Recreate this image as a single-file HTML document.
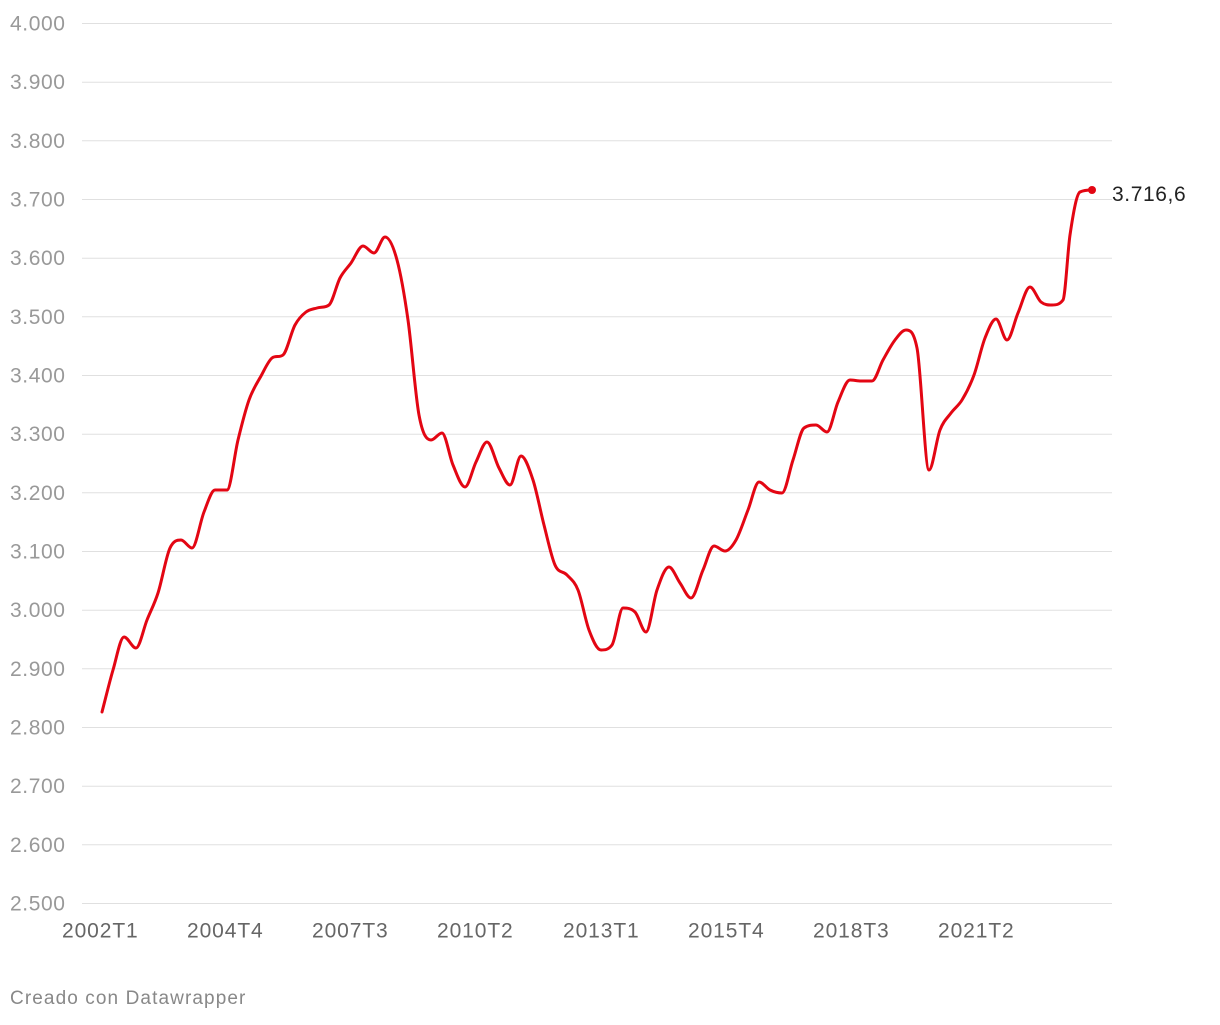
<!DOCTYPE html>
<html><head><meta charset="utf-8"><style>
body{margin:0;background:#fff;width:1220px;height:1020px;overflow:hidden;font-family:"Liberation Sans",Arial,sans-serif}
</style></head><body>
<svg width="1220" height="1020" xmlns="http://www.w3.org/2000/svg" font-family="Liberation Sans, Arial, sans-serif">
<g stroke="#e0e0e0" stroke-width="1">
<line x1="82" x2="1112" y1="23.5" y2="23.5"/><line x1="82" x2="1112" y1="82.2" y2="82.2"/>
<line x1="82" x2="1112" y1="140.8" y2="140.8"/><line x1="82" x2="1112" y1="199.5" y2="199.5"/>
<line x1="82" x2="1112" y1="258.2" y2="258.2"/><line x1="82" x2="1112" y1="316.8" y2="316.8"/>
<line x1="82" x2="1112" y1="375.5" y2="375.5"/><line x1="82" x2="1112" y1="434.2" y2="434.2"/>
<line x1="82" x2="1112" y1="492.8" y2="492.8"/><line x1="82" x2="1112" y1="551.5" y2="551.5"/>
<line x1="82" x2="1112" y1="610.2" y2="610.2"/><line x1="82" x2="1112" y1="668.8" y2="668.8"/>
<line x1="82" x2="1112" y1="727.5" y2="727.5"/><line x1="82" x2="1112" y1="786.2" y2="786.2"/>
<line x1="82" x2="1112" y1="844.8" y2="844.8"/><line x1="82" x2="1112" y1="903.5" y2="903.5"/>
</g>
<g fill="#999" font-size="21" letter-spacing="0.6">
<text x="10" y="30.5">4.000</text><text x="10" y="89">3.900</text><text x="10" y="148">3.800</text>
<text x="10" y="206.5">3.700</text><text x="10" y="265">3.600</text><text x="10" y="324">3.500</text>
<text x="10" y="382.5">3.400</text><text x="10" y="441">3.300</text><text x="10" y="500">3.200</text>
<text x="10" y="558.5">3.100</text><text x="10" y="617">3.000</text><text x="10" y="676">2.900</text>
<text x="10" y="734.5">2.800</text><text x="10" y="793">2.700</text><text x="10" y="852">2.600</text>
<text x="10" y="910.5">2.500</text>
</g>
<g fill="#666" font-size="21" letter-spacing="0.9">
<text x="62" y="937.5">2002T1</text><text x="187" y="937.5">2004T4</text><text x="312" y="937.5">2007T3</text>
<text x="437" y="937.5">2010T2</text><text x="563" y="937.5">2013T1</text><text x="688" y="937.5">2015T4</text>
<text x="813" y="937.5">2018T3</text><text x="938" y="937.5">2021T2</text>
</g>
<path id="ln" fill="none" stroke="#e30613" stroke-width="3" stroke-linejoin="round" stroke-linecap="round" d=""/>
<circle cx="1092" cy="190" r="4" fill="#e30613"/>
<text x="1112" y="201" font-size="21" fill="#222" letter-spacing="0.6">3.716,6</text>
<text x="10" y="1004" font-size="19" fill="#888" letter-spacing="1.1">Creado con Datawrapper</text>
</svg>
<script>
var s="102,712 113,670 124,637 136,648 147,620 158,593 170,548 181,540 192,548 204,512 215,490 227,490 238,440 249,400 261,376 272,358 283,355 295,325 306,312 317,308 329,305 340,278 351,263 363,246 374,253 385,237 397,260 408,320 419,415 431,440 442,433 453,465 465,487 476,462 487,442 499,468 510,485 521,456 533,480 544,525 555,565 567,575 578,590 589,630 601,650 612,645 623,608 635,612 646,632 657,590 669,567 680,583 691,598 703,570 714,546 725,551 736,540 748,510 759,482 770,490 782,493 793,460 804,428 816,425 827,432 838,402 850,380 861,381 872,381 883,360 895,340 906,330 917,348 929,470 940,430 951,413 962,400 974,375 985,338 996,319 1007,340 1018,313 1030,287 1041,302 1052,305 1063,300 1070,235 1080,192 1092,190";
var p=s.split(" ").map(function(a){return a.split(",").map(Number)});
var n=p.length,m=[],d=[];
for(var i=0;i<n-1;i++)d.push((p[i+1][1]-p[i][1])/(p[i+1][0]-p[i][0]));
m[0]=d[0];m[n-1]=0;
for(i=1;i<n-1;i++){m[i]=(d[i-1]*d[i]<=0)?0:(d[i-1]+d[i])/2;
 var a=m[i]/d[i-1],b=m[i]/d[i];var t=a*a+b*b;if(t>9){var k=3/Math.sqrt(t);m[i]=k*a*d[i-1];}}
var path="M"+p[0][0]+","+p[0][1];
for(i=0;i<n-1;i++){var h=(p[i+1][0]-p[i][0])/3;
path+="C"+(p[i][0]+h)+","+(p[i][1]+m[i]*h)+" "+(p[i+1][0]-h)+","+(p[i+1][1]-m[i+1]*h)+" "+p[i+1][0]+","+p[i+1][1];}
document.getElementById("ln").setAttribute("d",path);
</script>
</body></html>
